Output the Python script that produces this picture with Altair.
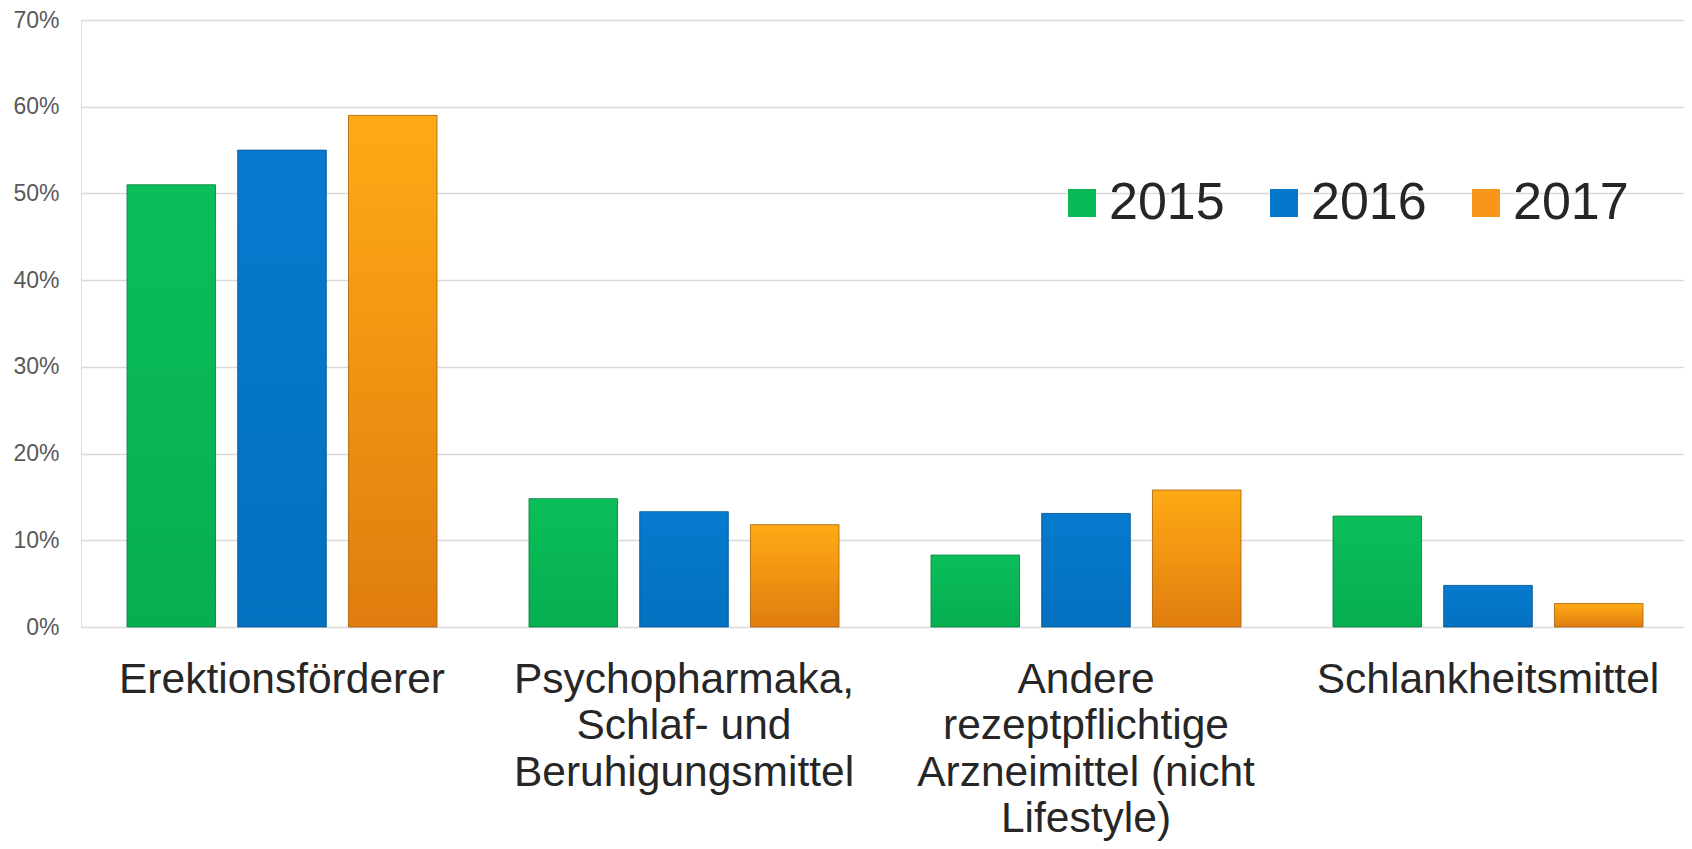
import altair as alt
import pandas as pd

categories = [
    "Erektionsförderer",
    "Psychopharmaka,\nSchlaf- und\nBeruhigungsmittel",
    "Andere\nrezeptpflichtige\nArzneimittel (nicht\nLifestyle)",
    "Schlankheitsmittel",
]
years = ["2015", "2016", "2017"]
values_2015 = [0.51, 0.148, 0.083, 0.128]
values_2016 = [0.55, 0.133, 0.131, 0.048]
values_2017 = [0.59, 0.118, 0.158, 0.027]

colors = ["#08B955", "#0577CA", "#F7961A"]
grad_top = ["#0BBE5A", "#067BCE", "#FFAA15"]
grad_bottom = ["#06AE4F", "#0470C0", "#E07D0F"]
strokes = ["#067A38", "#03508A", "#9C5A0A"]

rows = []
for yr, vals in zip(years, [values_2015, values_2016, values_2017]):
    for c, v in zip(categories, vals):
        rows.append({"Kategorie": c, "Jahr": yr, "Wert": v})
df = pd.DataFrame(rows)

x_enc = alt.X(
    "Kategorie:N",
    sort=categories,
    scale=alt.Scale(paddingInner=0, paddingOuter=0, range=[0, 1608]),
    axis=alt.Axis(
        title=None,
        labelAngle=0,
        labelFont="Liberation Sans",
        labelFontSize=42.5,
        labelLineHeight=46.5,
        labelColor="#262626",
        labelPadding=31,
        labelBaseline="top",
        labelAlign="center",
        labelLimit=1000,
        labelExpr="split(datum.label, '\\n')",
        ticks=False,
        domain=False,
        grid=False,
    ),
)
xoff_enc = alt.XOffset(
    "Jahr:N", sort=years, scale=alt.Scale(paddingInner=0.2, paddingOuter=0.415)
)
y_enc = alt.Y(
    "Wert:Q",
    scale=alt.Scale(domain=[0, 0.7], nice=False),
    axis=alt.Axis(
        title=None,
        format=".0%",
        values=[0, 0.1, 0.2, 0.3, 0.4, 0.5, 0.6, 0.7],
        labelFont="Liberation Sans",
        labelFontSize=23,
        labelColor="#595959",
        labelPadding=22,
        ticks=False,
        domain=False,
        grid=True,
        gridColor="#D9D9D9",
        gridWidth=1.6,
    ),
)

base = alt.Chart(df).mark_bar().encode(
    x=x_enc,
    xOffset=xoff_enc,
    y=y_enc,
    color=alt.Color(
        "Jahr:N",
        sort=years,
        scale=alt.Scale(domain=years, range=colors),
        legend=alt.Legend(
            title=None,
            orient="none",
            legendX=975,
            legendY=157,
            direction="horizontal",
            symbolType="square",
            symbolSize=784,
            symbolStrokeWidth=0,
            labelFont="Liberation Sans",
            labelFontSize=52,
            labelColor="#262626",
            labelOffset=1,
            columnPadding=33,
            padding=0,
        ),
    ),
)

layers = [base]
for i, yr in enumerate(years):
    grad = alt.Gradient(
        gradient="linear",
        stops=[
            alt.GradientStop(color=grad_top[i], offset=0),
            alt.GradientStop(color=grad_bottom[i], offset=1),
        ],
        x1=0, x2=0, y1=0, y2=1,
    )
    layers.append(
        alt.Chart(df)
        .transform_filter(alt.datum.Jahr == yr)
        .mark_bar(color=grad, stroke=strokes[i], strokeWidth=1, strokeOpacity=0.7)
        .encode(x=x_enc, xOffset=xoff_enc, y=y_enc)
    )

chart = (
    alt.layer(*layers)
    .properties(
        width=1603,
        height=607,
        padding={"left": 73, "top": 12, "right": 0, "bottom": 214},
        autosize=alt.AutoSizeParams(type="none"),
    )
    .configure_view(stroke=None)
    .configure(background="white")
)

chart.save("out.html", embed_options={"renderer": "svg", "actions": False})
